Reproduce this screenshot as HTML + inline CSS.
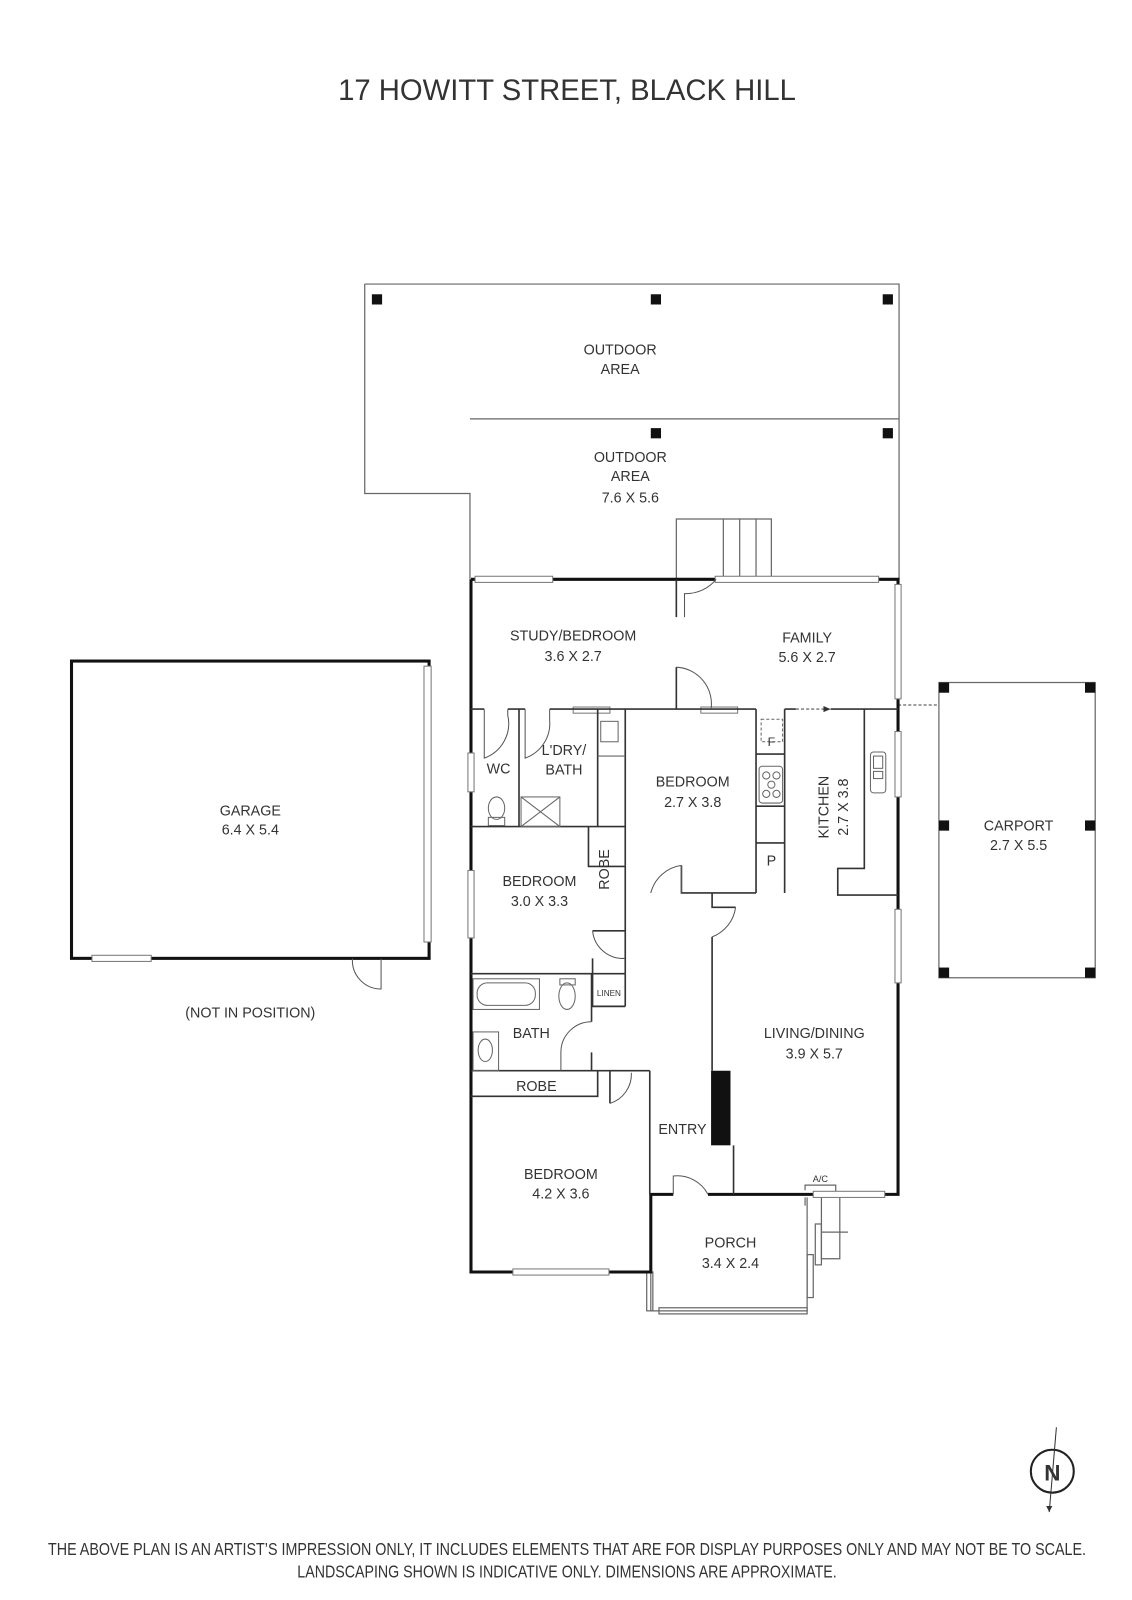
<!DOCTYPE html>
<html><head><meta charset="utf-8"><style>
html,body{margin:0;padding:0;background:#fff;}
svg{display:block;}
text{font-family:"Liberation Sans",sans-serif;fill:#333;}
</style></head><body>
<svg width="1132" height="1600" viewBox="0 0 1108 1566" xmlns="http://www.w3.org/2000/svg">
<rect width="1108" height="1566" fill="#fff"/>
<text x="555" y="98" font-size="29" text-anchor="middle" textLength="448" lengthAdjust="spacingAndGlyphs" fill="#222">17 HOWITT STREET, BLACK HILL</text>

<g fill="none" stroke="#666" stroke-width="1.2">
<!-- outdoor areas -->
<path d="M357 278 H880 V567 M357 278 V483 H460 V567 M460 410 H880"/>
<!-- stairs -->
<path d="M662 567 V508 H755 V567 M708 508 V567 M724 508 V567 M740 508 V567"/>
<!-- carport -->
<rect x="919" y="668" width="153" height="289"/>
<path d="M879 690 H919" stroke-dasharray="3 2"/>
<!-- porch -->
<path d="M637 1245 V1283 H790 V1240 M790 1172 V1240"/>
<rect x="645" y="1280" width="145" height="6"/>
<rect x="633" y="1245" width="6" height="38"/>
<!-- porch right fittings -->
<path d="M804 1172 V1232 H822 V1172 M804 1206 H830"/>
<rect x="798" y="1198" width="6" height="40"/>
<rect x="790" y="1228" width="6" height="42"/>
<path d="M788 1165 V1160 H818 V1170 M788 1172 V1180"/>
</g>
<text x="803" y="1157" font-size="9" text-anchor="middle">A/C</text>

<!-- posts -->
<g fill="#111">
<rect x="364" y="288" width="10" height="10"/><rect x="637" y="288" width="10" height="10"/><rect x="864" y="288" width="10" height="10"/>
<rect x="637" y="419" width="10" height="10"/><rect x="864" y="419" width="10" height="10"/>
<rect x="919" y="668" width="10" height="10"/><rect x="1062" y="668" width="10" height="10"/>
<rect x="919" y="803" width="10" height="10"/><rect x="1062" y="803" width="10" height="10"/>
<rect x="919" y="947" width="10" height="10"/><rect x="1062" y="947" width="10" height="10"/>
<rect x="696" y="1048" width="19" height="73"/>
</g>

<!-- thick external walls -->
<g fill="none" stroke="#111" stroke-width="3">
<path d="M461 567 V1245 H637 V1169 H659 M693 1169 H879 V567 H461"/>
<rect x="70" y="647" width="350" height="291"/>
</g>
<!-- windows -->
<g fill="#fff" stroke="#777" stroke-width="1">
<rect x="465" y="564" width="76" height="6"/>
<rect x="700" y="564" width="160" height="6"/>
<rect x="876" y="572" width="6" height="112"/>
<rect x="876" y="716" width="6" height="64"/>
<rect x="876" y="890" width="6" height="72"/>
<rect x="458" y="737" width="6" height="38"/>
<rect x="458" y="852" width="6" height="66"/>
<rect x="502" y="1242" width="94" height="6"/>
<rect x="796" y="1166" width="70" height="6"/>
<rect x="415" y="652" width="7" height="270"/>
<rect x="90" y="935" width="58" height="6"/>
<rect x="561" y="692" width="36" height="6"/>
<rect x="686" y="692" width="36" height="6"/>
</g>

<!-- internal walls -->
<g fill="none" stroke="#333" stroke-width="1.6">
<path d="M662 567 V604 M662 653 V694"/>
<path d="M461 694 H474 M497 694 H514 M538 694 H740 M768 694 H779 M813 694 H879"/>
<path d="M508 694 V809 M585 694 V809 M612 694 V847"/>
<path d="M461 809 H612"/>
<path d="M576 809 V848 H612 M612 847 V911 H580 M580 938 V953"/>
<path d="M740 694 V874 M667 847 V874 H740 M697 874 V888 H720"/>
<path d="M768 694 V874 M740 738 H768 M740 789 H768 M740 825 H768"/>
<path d="M846 694 V850 H820 V876 H879"/>
<path d="M461 953 H612 M579 953 V1000 M579 1030 V1048 H549 M461 1048 H636 M461 1073 H585 V1048 M597 1048 V1080 M636 1048 V1169"/>
<path d="M697 917 V1048 M718 1121 V1169"/>
<path d="M580 953 V985 H612 M612 911 V953"/>
<path d="M520 985 V1001" stroke="none"/>
<path d="M612 953 V985"/>
</g>
<!-- doors -->
<g fill="none" stroke="#555" stroke-width="1">
<path d="M670 604 V581 A38 38 0 0 0 701 567"/>
<path d="M662 653 A36 36 0 0 1 696 694"/>
<path d="M474 694 V742 A36 36 0 0 0 497 700 V694"/>
<path d="M514 694 V742 A36 36 0 0 0 538 705 V694"/>
<path d="M667 847 V874 M667 847 A36 36 0 0 0 637 874"/>
<path d="M720 888 A36 36 0 0 1 697 917"/>
<path d="M580 911 A30 30 0 0 0 612 938"/>
<path d="M579 1000 A30 30 0 0 0 549 1030 V1048"/>
<path d="M597 1080 A30 30 0 0 0 618 1050"/>
<path d="M659 1169 V1151 A34 34 0 0 1 693 1169"/>
<path d="M373 938 V968 A28 28 0 0 1 345 938"/>
<path d="M779 694 H813" stroke-dasharray="3 2"/>
</g>
<path d="M813 694 l-7 -3 v6 z" fill="#333"/>
<!-- fixtures -->
<g fill="none" stroke="#666" stroke-width="1">
<rect x="588" y="706" width="17" height="20"/>
<path d="M585 740 H612"/>
<rect x="510" y="780" width="38" height="29"/><path d="M510 780 L548 809 M548 780 L510 809"/>
<ellipse cx="486" cy="791" rx="8" ry="11"/><rect x="478" y="800" width="16" height="8"/>
<rect x="745" y="704" width="21" height="22" stroke-dasharray="3 2"/>
<rect x="743" y="750" width="23" height="36" rx="3"/>
<circle cx="750" cy="759" r="3.5"/><circle cx="760" cy="759" r="3.5"/><circle cx="755" cy="768" r="3.5"/><circle cx="750" cy="777" r="3.5"/><circle cx="760" cy="777" r="3.5"/>
<rect x="852" y="736" width="15" height="40" rx="3"/><rect x="855" y="740" width="9" height="12"/><rect x="855" y="755" width="9" height="7"/>
<rect x="463" y="958" width="65" height="30"/><rect x="467" y="962" width="57" height="22" rx="10"/>
<ellipse cx="555" cy="975" rx="8" ry="13"/><rect x="548" y="958" width="15" height="6"/>
<rect x="463" y="1010" width="25" height="38"/><ellipse cx="475" cy="1028" rx="7" ry="11"/>
</g>

<!-- labels -->
<g font-size="14" text-anchor="middle">
<text x="607" y="347">OUTDOOR</text><text x="607" y="366">AREA</text>
<text x="617" y="452">OUTDOOR</text><text x="617" y="471">AREA</text><text x="617" y="492">7.6 X 5.6</text>
<text x="561" y="627">STUDY/BEDROOM</text><text x="561" y="647">3.6 X 2.7</text>
<text x="790" y="629">FAMILY</text><text x="790" y="648">5.6 X 2.7</text>
<text x="488" y="757">WC</text>
<text x="552" y="739">L'DRY/</text><text x="552" y="758">BATH</text>
<text x="678" y="770">BEDROOM</text><text x="678" y="790">2.7 X 3.8</text>
<text x="755" y="730" font-size="12">F</text>
<text x="755" y="847">P</text>
<text x="528" y="867">BEDROOM</text><text x="528" y="887">3.0 X 3.3</text>
<text x="245" y="798">GARAGE</text><text x="245" y="817">6.4 X 5.4</text>
<text x="245" y="996">(NOT IN POSITION)</text>
<text x="997" y="813">CARPORT</text><text x="997" y="832">2.7 X 5.5</text>
<text x="520" y="1016">BATH</text>
<text x="525" y="1068">ROBE</text>
<text x="797" y="1016">LIVING/DINING</text><text x="797" y="1036">3.9 X 5.7</text>
<text x="668" y="1110">ENTRY</text>
<text x="549" y="1154">BEDROOM</text><text x="549" y="1173">4.2 X 3.6</text>
<text x="715" y="1221">PORCH</text><text x="715" y="1241">3.4 X 2.4</text>
<text x="596" y="851" transform="rotate(-90 596 851)">ROBE</text>
<text transform="translate(811 790) rotate(-90)">KITCHEN</text>
<text transform="translate(830 790) rotate(-90)">2.7 X 3.8</text>
<text x="596" y="975" font-size="8">LINEN</text>
</g>

<!-- north -->
<circle cx="1030" cy="1440" r="21" fill="#fff" stroke="#222" stroke-width="2"/>
<path d="M1034 1397 L1027 1480" stroke="#333" stroke-width="1"/>
<path d="M1027 1480 l-3 -6 h6 z" fill="#333"/>
<text x="1030" y="1449" font-size="22" font-weight="bold" text-anchor="middle" fill="#222">N</text>

<text x="555" y="1522" font-size="17" text-anchor="middle" textLength="1016" lengthAdjust="spacingAndGlyphs" fill="#111">THE ABOVE PLAN IS AN ARTIST’S IMPRESSION ONLY, IT INCLUDES ELEMENTS THAT ARE FOR DISPLAY PURPOSES ONLY AND MAY NOT BE TO SCALE.</text>
<text x="555" y="1544" font-size="17" text-anchor="middle" textLength="528" lengthAdjust="spacingAndGlyphs" fill="#111">LANDSCAPING SHOWN IS INDICATIVE ONLY. DIMENSIONS ARE APPROXIMATE.</text>
</svg>
</body></html>
